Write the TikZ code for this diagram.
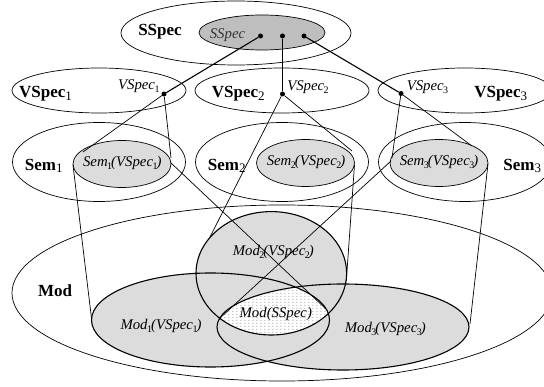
\documentclass[tikz,border=0pt]{standalone}
\usepackage{fontspec}
\setmainfont{Liberation Serif}
\usetikzlibrary{patterns}
\definecolor{lgray}{HTML}{DCDCDC}
\definecolor{dgray}{HTML}{BEBEBE}
\newcommand{\bsub}[1]{\raisebox{-0.3ex}{\normalfont\fontsize{13}{13}\selectfont #1}}
\newcommand{\isub}[1]{\kern-0.5pt\raisebox{-0.45ex}{\normalfont\fontsize{10}{10}\selectfont #1}\kern-1pt}
\pgfdeclarepatternformonly{sparsedots}{\pgfpointorigin}{\pgfqpoint{3.6pt}{3pt}}{\pgfqpoint{3.6pt}{3pt}}{%
  \pgfpathcircle{\pgfqpoint{1pt}{1pt}}{0.6pt}\pgfusepath{fill}}
\tikzset{
  ell/.style={line width=0.7pt},
  modell/.style={line width=1.1pt},
  conn/.style={line width=1.1pt},
  thinln/.style={line width=0.7pt},
  dot/.style={circle, fill=black, inner sep=0pt, minimum size=5pt},
  blbl/.style={inner sep=0pt, font=\fontsize{17}{17}\selectfont\bfseries},
  ilbl/.style={inner sep=0pt, font=\fontsize{14.8}{14.8}\selectfont\itshape},
}
\begin{document}
\begin{tikzpicture}[x=1pt,y=-1pt]
\useasboundingbox (0,0) rectangle (544,387);
% SSpec
\draw[ell] (236,33) ellipse [x radius=115, y radius=32];
\filldraw[ell, fill=dgray] (262,32.5) ellipse [x radius=63, y radius=17.5];
% VSpec ellipses
\draw[ell] (99,90.5) ellipse [x radius=87, y radius=22.5];
\draw[ell] (282,90.5) ellipse [x radius=87, y radius=22.5];
\draw[ell] (465,90.5) ellipse [x radius=87, y radius=22.5];
% Sem ellipses
\draw[ell] (99,162) ellipse [x radius=86.5, y radius=39.5];
\draw[ell] (282,162) ellipse [x radius=86.5, y radius=39.5];
\draw[ell] (465,162) ellipse [x radius=86.5, y radius=39.5];
\filldraw[ell, fill=lgray] (122,164) ellipse [x radius=49, y radius=23.5];
\filldraw[ell, fill=lgray] (305.5,163) ellipse [x radius=49, y radius=23.5];
\filldraw[ell, fill=lgray] (439,163) ellipse [x radius=49, y radius=23.5];
% Mod
\draw[ell] (282,293) ellipse [x radius=270, y radius=88];
\fill[lgray] (210.5,320) ellipse [x radius=119, y radius=47];
\fill[lgray] (343,327) ellipse [x radius=126, y radius=43];
\fill[lgray] (271.3,273.3) ellipse [x radius=75.3, y radius=61.7];
\begin{scope}
  \clip (210.5,320) ellipse [x radius=119, y radius=47];
  \clip (271.3,273.3) ellipse [x radius=75.3, y radius=61.7];
  \fill[white] (343,327) ellipse [x radius=126, y radius=43];
  \fill[pattern=sparsedots, pattern color=black!60] (343,327) ellipse [x radius=126, y radius=43];
\end{scope}
\draw[modell] (210.5,320) ellipse [x radius=119, y radius=47];
\draw[modell] (343,327) ellipse [x radius=126, y radius=43];
\draw[modell] (271.3,273.3) ellipse [x radius=75.3, y radius=61.7];
% dots
\node[dot] (s1) at (260.5,36) {};
\node[dot] (s2) at (282.5,36) {};
\node[dot] (s3) at (304,36) {};
\node[dot] (v1) at (164,94) {};
\node[dot] (v2) at (282.5,94) {};
\node[dot] (v3) at (401,93.5) {};
% connector end points
\coordinate (c1a) at (83,152);
\coordinate (c1b) at (171,158);
\coordinate (y1a) at (73,165);
\coordinate (m1a) at (91.7,320);
\coordinate (y1b) at (171,163);
\coordinate (m1b) at (326,309);
\coordinate (m2a) at (210,237);
\coordinate (c2b) at (352,151);
\coordinate (y2b) at (354.5,165);
\coordinate (m2b) at (346.3,281);
\coordinate (c3a) at (392,158);
\coordinate (c3b) at (472,146);
\coordinate (y3a) at (391,161);
\coordinate (m3a) at (220,318);
\coordinate (y3b) at (488,164);
\coordinate (m3b) at (470,324);
% connectors
\draw[conn] (s1) -- (v1);
\draw[conn] (s2) -- (v2);
\draw[conn] (s3) -- (v3);
\draw[thinln] (v1) -- (c1a);
\draw[thinln] (v1) -- (c1b);
\draw[thinln] (y1a) -- (m1a);
\draw[thinln] (y1b) -- (m1b);
\draw[thinln] (v2) -- (m2a);
\draw[thinln] (v2) -- (c2b);
\draw[thinln] (y2b) -- (m2b);
\draw[thinln] (v3) -- (c3a);
\draw[thinln] (v3) -- (c3b);
\draw[thinln] (y3a) -- (m3a);
\draw[thinln] (y3b) -- (m3b);
% labels
\node[blbl] (lss) at (160,32) {SSpec};
\node[ilbl, text=black!80] (lssi) at (227.5,35) {SSpec};
\node[blbl] (lv1) at (45.5,94) {VSpec\bsub{1}};
\node[blbl] (lv2) at (238.3,94) {VSpec\bsub{2}};
\node[blbl] (lv3) at (500.7,94) {VSpec\bsub{3}};
\node[ilbl] (lv1i) at (138.3,86) {VSpec\isub{1}};
\node[ilbl] (lv2i) at (307.5,87) {VSpec\isub{2}};
\node[ilbl] (lv3i) at (427,87) {VSpec\isub{3}};
\node[blbl] (lsem1) at (43.7,166) {Sem\bsub{1}};
\node[blbl] (lsem2) at (226.7,166) {Sem\bsub{2}};
\node[blbl] (lsem3) at (522.3,166) {Sem\bsub{3}};
\node[ilbl] (lsem1i) at (122.3,162.5) {Sem\isub{1}(VSpec\isub{1})};
\node[ilbl] (lsem2i) at (306,162) {Sem\isub{2}(VSpec\isub{2})};
\node[ilbl] (lsem3i) at (439,162) {Sem\isub{3}(VSpec\isub{3})};
\node[blbl] (lmod) at (55,291) {Mod};
\node[ilbl] (lmod1) at (161,325.5) {Mod\isub{1}(VSpec\isub{1})};
\node[ilbl] (lmod2) at (273.3,252) {Mod\isub{2}(VSpec\isub{2})};
\node[ilbl] (lmods) at (275.8,313.5) {Mod(SSpec)};
\node[ilbl] (lmod3) at (385.3,328.5) {Mod\isub{3}(VSpec\isub{3})};
\end{tikzpicture}
\end{document}
